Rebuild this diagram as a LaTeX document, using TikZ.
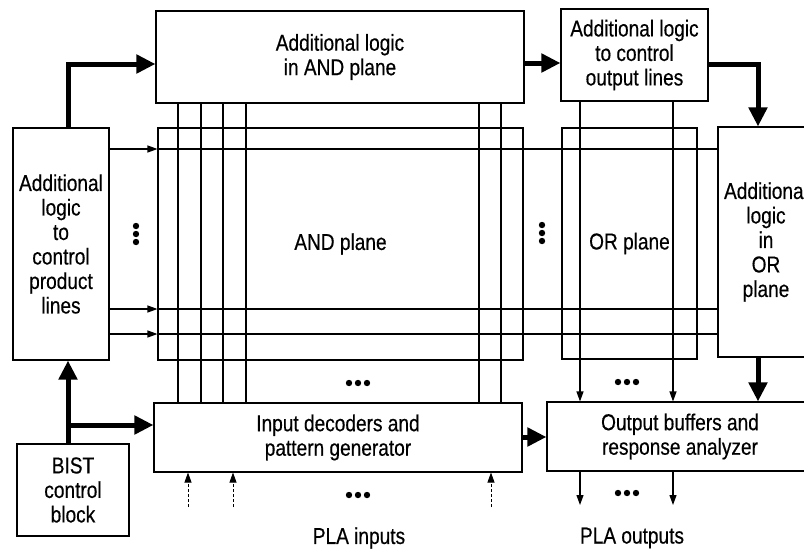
\documentclass[tikz,border=0pt]{standalone}
\usepackage{fontspec}
\setmainfont{Liberation Sans}[FakeStretch=0.83,FakeBold=0.4]
\usetikzlibrary{arrows.meta}
\begin{document}
\begin{tikzpicture}[x=1pt,y=-1pt,
  every node/.style={font=\fontsize{23}{24.5}\selectfont},
  blk/.style={draw,line width=1.1pt,align=center,inner sep=0pt},
  bigarrow/.style={line width=5pt,-{Triangle[length=19pt,width=18pt]}},
  thinarrow/.style={line width=1.1pt,-{Triangle[length=10pt,width=7pt]}},
  thinline/.style={line width=1.1pt},
  inarrow/.style={line width=0.9pt,densely dashed,-{Triangle[length=10pt,width=7pt]}},
  dot/.style={fill=black,draw=none}]
\useasboundingbox (0,0) rectangle (804,550);
\clip (0,0) rectangle (804,550);
\fill[white] (0,0) rectangle (804,550);

% blocks
\node[blk,minimum width=368pt,minimum height=92pt] (andlogic) at (340,57) {Additional logic\\in AND plane};
\node[blk,minimum width=147pt,minimum height=92pt] (outctl) at (634.5,55) {Additional logic\\to control\\output lines};
\node[blk,minimum width=96pt,minimum height=232pt] (prodctl) at (61,244) {Additional\\logic\\to\\control\\product\\lines};
\node[blk,minimum width=365pt,minimum height=232pt] (andplane) at (340.5,244) {AND plane};
\node[blk,minimum width=135pt,minimum height=231pt] (orplane) at (629.5,243.5) {OR plane};
\node[blk,minimum width=96pt,minimum height=230pt] (orlogic) at (766,242) {Additional\\logic\\in\\OR\\plane};
\node[blk,minimum width=368pt,minimum height=69pt] (indec) at (338,437.5) {Input decoders and\\pattern generator};
\node[blk,minimum width=266pt,minimum height=69pt] (outbuf) at (680,436.5) {Output buffers and\\response analyzer};
\node[blk,minimum width=112pt,minimum height=92pt] (bist) at (73,490) {BIST\\control\\block};

\node (plain) at (359,538) {PLA inputs};
\node (plaout) at (632,538) {PLA outputs};

% bend coordinates
\coordinate (k1) at (68,64);
\coordinate (k2) at (540,63);
\coordinate (k3) at (758,64);
\coordinate (k4) at (68,425);
\coordinate (k5) at (535,437);

% thick connectors
\draw[bigarrow] (k1 |- prodctl.north) -- (k1) -- (k1 -| andlogic.west);
\draw[bigarrow] (k2 -| andlogic.east) -- (k2 -| outctl.west);
\draw[bigarrow] (k3 -| outctl.east) -- (k3) -- (k3 |- orlogic.north);
\draw[bigarrow] (k3 |- orlogic.south) -- (k3 |- outbuf.north);
\draw[bigarrow] (k1 |- bist.north) -- (k1 |- prodctl.south);
\draw[bigarrow] (k4) -- (k4 -| indec.west);
\draw[bigarrow] (k5 -| indec.east) -- (k5 -| outbuf.west);

% product lines
\foreach \yy/\nm in {149/h1,309/h2,334/h3}{
  \coordinate (\nm) at (0,\yy);
  \draw[thinarrow] (\nm -| prodctl.east) -- (\nm -| andplane.west);
  \draw[thinline] (\nm -| andplane.west) -- (\nm -| orlogic.west);
}

% vertical lines in AND plane
\foreach \xx/\nm in {178/v1,201/v2,223/v3,246/v4,479/v5,501/v6}{
  \coordinate (\nm) at (\xx,0);
  \draw[thinline] (\nm |- andlogic.south) -- (\nm |- indec.north);
}

% vertical lines in OR plane and outputs
\foreach \xx/\nm in {580/w1,673/w2}{
  \coordinate (\nm) at (\xx,0);
  \coordinate (\nm e) at (\xx,505);
  \draw[thinarrow] (\nm |- outctl.south) -- (\nm |- outbuf.north);
  \draw[thinarrow] (\nm |- outbuf.south) -- (\nm e);
}

% inputs
\foreach \xx/\nm in {188/i1,233/i2,491/i3}{
  \coordinate (\nm) at (\xx,507);
  \draw[inarrow] (\nm) -- (\nm |- indec.south);
}

% dots
\foreach \cx/\cy in {358/383,358/495,627/382,627/493}{
  \foreach \d in {-9,0,9}{
    \fill[dot] (\cx+\d,\cy) circle (3.2pt);
  }
}
\foreach \cx/\cy in {136/234,542/233}{
  \foreach \d in {-8,0,8}{
    \fill[dot] (\cx,\cy+\d) circle (3.2pt);
  }
}
\end{tikzpicture}
\end{document}
